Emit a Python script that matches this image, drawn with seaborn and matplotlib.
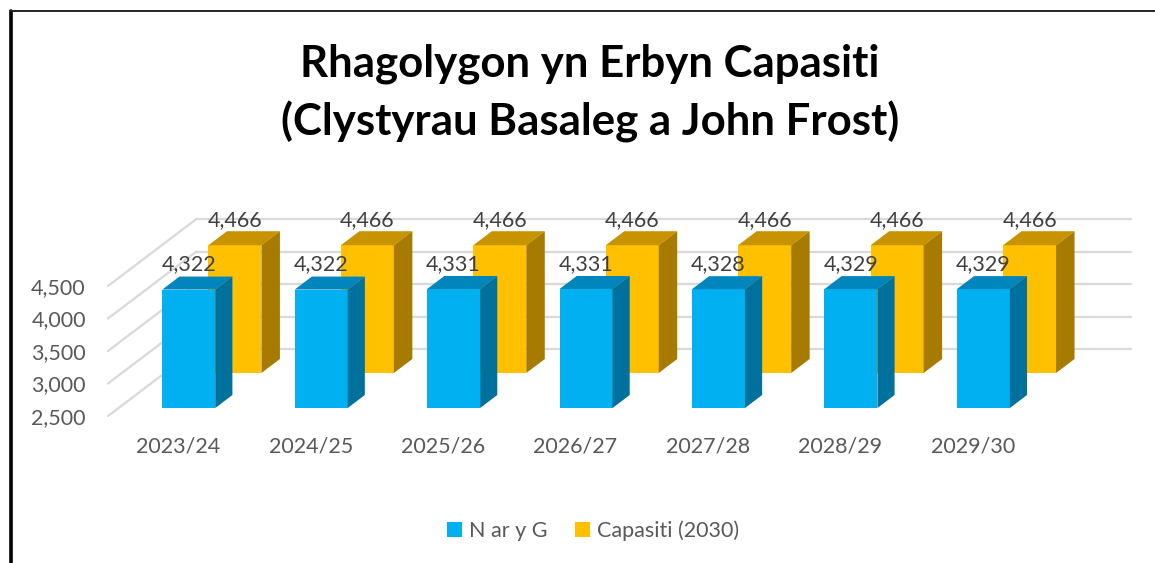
import numpy as np
import pandas as pd
import matplotlib
matplotlib.use("Agg")
import matplotlib.pyplot as plt
import matplotlib.transforms as mtransforms
from matplotlib.patches import Polygon, Patch
from matplotlib.lines import Line2D
import seaborn as sns

# data
years = ["2023/24", "2024/25", "2025/26", "2026/27", "2027/28", "2028/29", "2029/30"]
n_ar_y_g = [4322, 4322, 4331, 4331, 4328, 4329, 4329]
capasiti = [4466, 4466, 4466, 4466, 4466, 4466, 4466]
y_ticks = [2500, 3000, 3500, 4000, 4500]
series_names = ["N ar y G", "Capasiti (2030)"]
title = "Rhagolygon yn Erbyn Capasiti\n(Clystyrau Basaleg a John Frost)"

df = pd.DataFrame({"year": years, "n": n_ar_y_g, "cap": capasiti})

sns.set_theme(style="white")
plt.rcParams["font.family"] = ["Lato", "DejaVu Sans"]

W, H = 1155, 563
fig = plt.figure(figsize=(W / 100, H / 100), dpi=100)
fig.patch.set_facecolor("white")

# axes = front plane of the fake 3-D box
ax = fig.add_axes([108 / W, (H - 416) / H, 935 / W, 216 / H])
floor = y_ticks[0]
px_per_unit = 0.065
xlim = (-0.53, 6.53)
ylim = (floor, floor + 216 / px_per_unit)

SLOPE = 1.32      # px to the right per px of depth (upwards)
WALL = 67         # depth of back wall in px

blue_cols = ("#00B0F0", "#0086BC", "#00709C")
gold_cols = ("#FFC000", "#C89300", "#A67B00")
FS = 15.5


def shifted(dx, dy):
    return mtransforms.offset_copy(ax.transData, fig=fig, x=dx, y=dy, units="dots")


sns.barplot(data=df, x="year", y="cap", order=years, color=gold_cols[0],
            saturation=1, width=0.4, errorbar=None, ax=ax)
gold = list(ax.patches)
sns.barplot(data=df, x="year", y="n", order=years, color=blue_cols[0],
            saturation=1, width=0.4, errorbar=None, ax=ax)
blue = list(ax.patches)[len(gold):]

ax.set_xlim(*xlim)
ax.set_ylim(*ylim)
ax.set_xlabel("")
ax.set_ylabel("")
for s in ax.spines.values():
    s.set_visible(False)
ax.set_facecolor("none")


def to_data(pts):
    return ax.transData.inverted().transform(pts)


def make_3d(patches, d0, depth, cols, z):
    t_front = shifted(SLOPE * d0, d0)
    back = np.array([SLOPE * depth, depth])
    for p in patches:
        x0, w = p.get_x(), p.get_width()
        top = p.get_y() + p.get_height()
        p.set_y(floor)
        p.set_height(top - floor)
        p.set_transform(t_front)
        p.set_clip_on(False)
        p.set_zorder(z)
        p.set_facecolor(cols[0])
        p.set_edgecolor("none")
        ftl, ftr, fbr = t_front.transform([(x0, top), (x0 + w, top), (x0 + w, floor)])
        top_face = to_data([ftl, ftr, ftr + back, ftl + back])
        side_face = to_data([ftr, fbr, fbr + back, ftr + back])
        ax.add_patch(Polygon(top_face, closed=True, facecolor=cols[1], edgecolor="none",
                             zorder=z, clip_on=False))
        ax.add_patch(Polygon(side_face, closed=True, facecolor=cols[2], edgecolor="none",
                             zorder=z, clip_on=False))
        ax.text(x0 + w / 2, top, f"{int(round(top)):,}", transform=shifted(SLOPE * d0, d0 + 25),
                ha="center", va="center", fontsize=FS, color="#404040", zorder=z + 5,
                clip_on=False)


make_3d(gold, 43, 14, gold_cols, 2)
make_3d(blue, 8, 13, blue_cols, 4)

# back wall gridlines and the diagonal side-wall lines
back_t = shifted(SLOPE * WALL, WALL)
for v in y_ticks:
    ax.plot(list(xlim), [v, v], color="#D9D9D9", lw=1.6, transform=back_t,
            clip_on=False, zorder=0.5)
    p_front = ax.transData.transform((xlim[0], v))
    pts = to_data([p_front, p_front + np.array([SLOPE * WALL, WALL])])
    ax.plot(pts[:, 0], pts[:, 1], color="#D9D9D9", lw=1.6, clip_on=False, zorder=0.5)

ax.set_yticks(y_ticks)
ax.set_yticklabels([f"{v:,}" for v in y_ticks])
ax.set_xticks(range(len(years)))
ax.set_xticklabels(years)
ax.tick_params(axis="both", length=0, labelsize=FS, labelcolor="#595959")
ax.tick_params(axis="y", pad=16)
ax.tick_params(axis="x", pad=15)

fig.text(590 / W, 1 - 93 / H, title, ha="center", va="center", fontsize=31.5,
         fontweight="bold", color="black", linespacing=1.5)

handles = [Patch(facecolor=blue_cols[0], edgecolor="none"),
           Patch(facecolor=gold_cols[0], edgecolor="none")]
fig.legend(handles, series_names, loc="center", bbox_to_anchor=(593 / W, 1 - 531 / H),
           ncol=2, frameon=False, fontsize=FS, handlelength=0.7, handleheight=0.7,
           handletextpad=0.3, columnspacing=1.3, labelcolor="#595959")

# chart border (left and top edges visible in the reference)
fig.add_artist(Line2D([11 / W, 11 / W], [0, 1 - 11 / H], color="black", lw=2.6,
                      transform=fig.transFigure))
fig.add_artist(Line2D([10 / W, 1], [1 - 11 / H, 1 - 11 / H], color="#222222", lw=1.4,
                      transform=fig.transFigure))

fig.savefig("out.png", dpi=100)
